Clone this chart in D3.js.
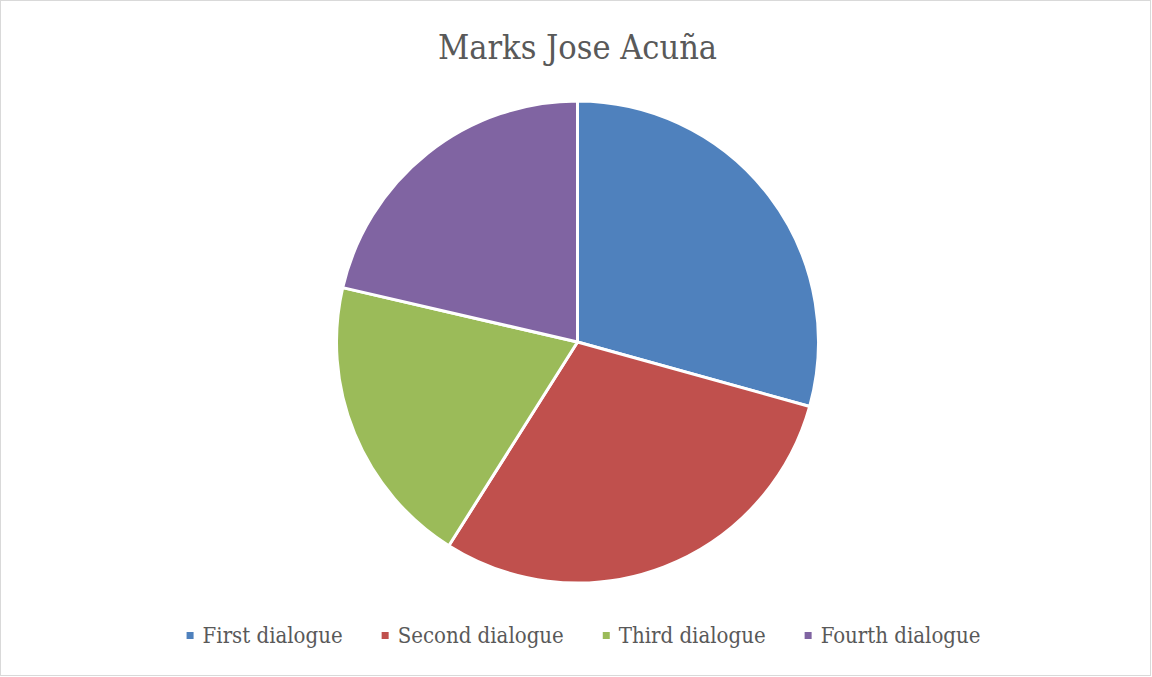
<!DOCTYPE html>
<html>
<head>
<meta charset="utf-8">
<script src="https://cdn.jsdelivr.net/npm/d3@7"></script>
<style>
  html, body { margin: 0; padding: 0; background: #fff; }
  svg { display: block; }
</style>
</head>
<body>
<svg id="chart" width="1152" height="677"></svg>
<script>
// Marks per dialogue
const categories = ["First dialogue", "Second dialogue", "Third dialogue", "Fourth dialogue"];
const marks = [8.5, 8.6, 5.7, 6.2];
const colors = ["#4F81BD", "#C0504D", "#9BBB59", "#8064A2"];
const title = "Marks Jose Acuña";

const W = 1152, H = 677;
const FONT = "'DejaVu Serif Condensed', 'DejaVu Serif', serif";
const svg = d3.select("#chart");

// chart frame
svg.append("rect")
  .attr("x", 0.5).attr("y", 0.5)
  .attr("width", W - 2).attr("height", H - 2)
  .attr("fill", "#fff")
  .attr("stroke", "#d9d9d9").attr("stroke-width", 1);

// title
svg.append("text")
  .attr("x", 577.5).attr("y", 59)
  .attr("text-anchor", "middle")
  .attr("font-family", FONT)
  .attr("font-stretch", "condensed")
  .attr("font-size", 34)
  .attr("fill", "#595959")
  .text(title);

const cx = 577.5, cy = 342, r = 241;
const color = d3.scaleOrdinal().domain(categories).range(colors);

const pie = d3.pie().sort(null).value(d => d.v);
const arc = d3.arc().innerRadius(0).outerRadius(r);
const data = categories.map((c, i) => ({ c, v: marks[i] }));

svg.append("g")
  .attr("transform", `translate(${cx},${cy})`)
  .selectAll("path")
  .data(pie(data))
  .join("path")
  .attr("d", arc)
  .attr("fill", d => color(d.data.c))
  .attr("stroke", "#fff")
  .attr("stroke-width", 3)
  .attr("stroke-linejoin", "round");

// legend
const legend = svg.append("g");
const items = legend.selectAll("g")
  .data(categories)
  .join("g");
items.append("rect")
  .attr("width", 7).attr("height", 7)
  .attr("y", -11)
  .attr("fill", d => color(d));
items.append("text")
  .attr("x", 16)
  .attr("y", 0)
  .attr("font-family", FONT)
  .attr("font-stretch", "condensed")
  .attr("font-size", 22)
  .attr("fill", "#595959")
  .text(d => d);

const gap = 39;
let x = 0;
items.each(function() {
  const w = d3.select(this).select("text").node().getComputedTextLength() + 16;
  d3.select(this).attr("transform", `translate(${x},0)`);
  x += w + gap;
});
const total = x - gap;
legend.attr("transform", `translate(${583.5 - total / 2},643)`);
</script>
</body>
</html>
